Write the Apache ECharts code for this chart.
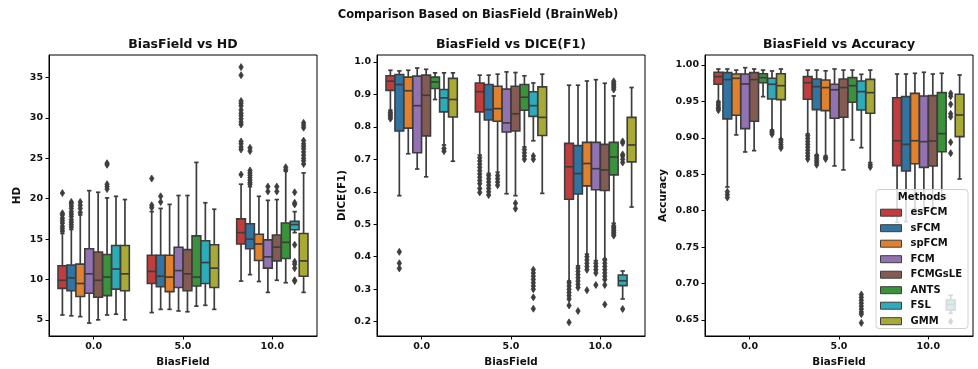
<!DOCTYPE html>
<html>
<head>
<meta charset="utf-8">
<script src="https://cdn.jsdelivr.net/npm/echarts@6/dist/echarts.min.js"></script>
<style>
  html, body { margin: 0; padding: 0; background: #fff; }
  #chart { width: 978px; height: 369px; }
</style>
</head>
<body>
<div id="chart"></div>
<script>
// Bias field levels on the x axis and segmentation methods (hue)
const categories = ['0.0', '5.0', '10.0'];
const methods = ['esFCM', 'sFCM', 'spFCM', 'FCM', 'FCMGsLE', 'ANTS', 'FSL', 'GMM'];

// Box statistics per method: [lower whisker, Q1, median, Q3, upper whisker]
// ---- HD ----
const hdBox0 = [
  [5.6, 8.9, 9.9, 11.7, 15.7],
  [5.5, 8.6, 10.2, 11.8, 16.2],
  [5.4, 7.9, 9.5, 11.9, 18.0],
  [4.6, 8.3, 10.7, 13.8, 21.0],
  [5.0, 7.8, 9.9, 13.4, 20.8],
  [5.6, 8.0, 10.3, 13.1, 20.1],
  [5.7, 8.8, 11.3, 14.2, 20.3],
  [5.0, 8.6, 10.7, 14.2, 19.9]
];
const hdBox5 = [
  [5.9, 9.5, 11.0, 13.0, 18.4],
  [6.3, 9.1, 10.4, 13.0, 18.8],
  [6.3, 8.5, 10.3, 13.0, 19.3],
  [6.1, 9.0, 11.1, 14.0, 20.4],
  [6.0, 8.6, 10.7, 13.7, 20.4],
  [6.7, 9.2, 10.3, 15.4, 24.5],
  [6.8, 9.5, 12.1, 14.8, 19.5],
  [6.3, 9.0, 11.4, 14.3, 18.7]
];
const hdBox10 = [
  [9.8, 14.4, 15.8, 17.5, 21.8],
  [10.6, 13.8, 15.0, 16.9, 21.5],
  [9.75, 12.35, 14.4, 15.6, 20.3],
  [8.4, 11.4, 12.8, 14.9, 19.8],
  [9.9, 12.3, 14.0, 15.5, 19.9],
  [9.6, 12.6, 14.6, 17.0, 23.4],
  [15.8, 16.15, 16.8, 17.2, 18.4],
  [8.4, 10.4, 12.3, 15.7, 23.2]
];
const hdOut0 = [
  [16.0, 16.3, 16.6, 17.0, 17.3, 17.6, 18.0, 18.2, 20.7],
  [16.5, 16.8, 17.1, 17.4, 17.8, 18.1, 18.4, 18.8, 19.1, 19.4, 19.6],
  [18.3, 18.8, 19.2, 19.6],
  [], [],
  [21.2, 21.5, 21.8, 24.2, 24.4],
  [], []
];
const hdOut5 = [
  [18.9, 19.2, 22.5],
  [19.6, 20.3],
  [], [], [], [], [], []
];
const hdOut10 = [
  [23.0, 26.1, 26.4, 26.8, 27.1, 29.2, 29.5, 29.9, 30.3, 30.6, 31.0, 31.5, 31.8, 32.1, 35.3, 36.3],
  [21.8, 22.0, 22.3, 22.6, 22.9, 23.2, 23.5, 25.9, 26.3],
  [],
  [20.9, 21.5],
  [20.9, 21.5],
  [23.6, 23.9],
  [20.8, 19.5, 19.3, 14.3, 12.2, 11.9, 11.4, 9.9, 9.8],
  [24.3, 24.7, 25.0, 25.4, 25.8, 26.2, 26.5, 26.8, 27.2, 28.8, 29.1, 29.4]
];

// ---- DICE(F1) ----
const diceBox0 = [
  [0.851, 0.912, 0.9405, 0.957, 0.974],
  [0.588, 0.787, 0.930, 0.961, 0.972],
  [0.717, 0.796, 0.911, 0.953, 0.974],
  [0.670, 0.720, 0.865, 0.956, 0.981],
  [0.646, 0.772, 0.897, 0.959, 0.977],
  [0.884, 0.918, 0.938, 0.953, 0.966],
  [0.744, 0.846, 0.889, 0.915, 0.966],
  [0.694, 0.830, 0.884, 0.949, 0.966]
];
const diceBox5 = [
  [0.713, 0.846, 0.908, 0.935, 0.959],
  [0.656, 0.821, 0.853, 0.930, 0.959],
  [0.660, 0.817, 0.856, 0.925, 0.962],
  [0.594, 0.784, 0.812, 0.916, 0.969],
  [0.588, 0.787, 0.840, 0.925, 0.967],
  [0.738, 0.851, 0.891, 0.930, 0.957],
  [0.757, 0.832, 0.865, 0.908, 0.935],
  [0.595, 0.773, 0.829, 0.923, 0.962]
];
const diceBox10 = [
  [0.325, 0.577, 0.677, 0.749, 0.928],
  [0.372, 0.593, 0.656, 0.742, 0.928],
  [0.408, 0.618, 0.687, 0.752, 0.941],
  [0.388, 0.606, 0.671, 0.752, 0.945],
  [0.393, 0.604, 0.667, 0.746, 0.934],
  [0.503, 0.652, 0.707, 0.752, 0.895],
  [0.270, 0.311, 0.326, 0.344, 0.356],
  [0.553, 0.692, 0.744, 0.829, 0.921]
];
const diceOut0 = [
  [0.845, 0.840, 0.835, 0.830, 0.825],
  [0.415, 0.380, 0.364],
  [], [], [], [],
  [0.733, 0.725],
  []
];
const diceOut5 = [
  [0.705, 0.695, 0.685, 0.675, 0.665, 0.655, 0.645, 0.635, 0.625, 0.610, 0.598],
  [0.650, 0.640, 0.630, 0.620, 0.610, 0.600, 0.590],
  [0.650, 0.640, 0.630, 0.620],
  [],
  [0.565, 0.548],
  [0.730, 0.720, 0.710, 0.700],
  [0.710, 0.700, 0.360, 0.350, 0.340, 0.330, 0.320, 0.310, 0.300, 0.275, 0.240],
  []
];
const diceOut10 = [
  [0.320, 0.310, 0.300, 0.290, 0.280, 0.270, 0.250, 0.198],
  [0.365, 0.355, 0.345, 0.335, 0.325, 0.315, 0.305, 0.233],
  [0.400, 0.390, 0.380, 0.370, 0.360, 0.297],
  [0.380, 0.370, 0.360, 0.350, 0.313],
  [0.390, 0.380, 0.370, 0.360, 0.350, 0.340, 0.330, 0.313, 0.253],
  [0.940, 0.935, 0.930, 0.925, 0.920, 0.915, 0.495, 0.490, 0.485, 0.480, 0.475, 0.470, 0.465],
  [0.755, 0.750, 0.715, 0.710, 0.700, 0.690, 0.239],
  []
];

// ---- Accuracy ----
const accBox0 = [
  [0.950, 0.9735, 0.984, 0.990, 0.9945],
  [0.8325, 0.926, 0.980, 0.9895, 0.9945],
  [0.904, 0.931, 0.9817, 0.9876, 0.993],
  [0.8806, 0.9126, 0.974, 0.9876, 0.9963],
  [0.8824, 0.9227, 0.980, 0.9895, 0.9945],
  [0.9565, 0.9757, 0.9826, 0.988, 0.993],
  [0.9108, 0.9533, 0.9735, 0.9817, 0.9918],
  [0.8984, 0.9524, 0.9716, 0.988, 0.9945]
];
const accBox5 = [
  [0.9053, 0.9529, 0.9757, 0.984, 0.993],
  [0.8765, 0.9387, 0.9703, 0.9808, 0.993],
  [0.875, 0.9373, 0.969, 0.9794, 0.992],
  [0.8614, 0.9268, 0.966, 0.9735, 0.9945],
  [0.856, 0.9282, 0.969, 0.9808, 0.993],
  [0.897, 0.9488, 0.9716, 0.9826, 0.993],
  [0.8865, 0.9382, 0.9634, 0.978, 0.9872],
  [0.866, 0.9337, 0.962, 0.9803, 0.993]
];
const accBox10 = [
  [0.784, 0.8618, 0.896, 0.955, 0.9876],
  [0.785, 0.8545, 0.891, 0.9565, 0.9876],
  [0.803, 0.8645, 0.896, 0.961, 0.9886],
  [0.800, 0.8595, 0.8947, 0.9575, 0.990],
  [0.803, 0.8614, 0.8957, 0.958, 0.9876],
  [0.815, 0.881, 0.9057, 0.962, 0.9886],
  [0.659, 0.6637, 0.6715, 0.6775, 0.684],
  [0.8435, 0.9016, 0.9314, 0.9598, 0.9863]
];
const accOut0 = [
  [0.948, 0.945, 0.942, 0.940, 0.938],
  [0.826, 0.822, 0.818],
  [], [], [], [],
  [0.909, 0.907, 0.905],
  [0.897, 0.894, 0.891, 0.888, 0.886]
];
const accOut5 = [
  [0.903, 0.899, 0.895, 0.891, 0.887, 0.883, 0.879, 0.875, 0.871],
  [0.875, 0.872, 0.869, 0.866, 0.863],
  [0.873, 0.871],
  [], [], [],
  [0.685, 0.681, 0.677, 0.673, 0.669, 0.665, 0.661, 0.658, 0.646],
  [0.863, 0.860]
];
const accOut10 = [
  [], [], [], [], [], [],
  [0.961, 0.957, 0.946, 0.933, 0.929, 0.894, 0.879, 0.648],
  []
];

// Axis tick values
const hdTicks = [5, 10, 15, 20, 25, 30, 35];
const diceTicks = [0.2, 0.3, 0.4, 0.5, 0.6, 0.7, 0.8, 0.9, 1.0];
const accTicks = [0.65, 0.70, 0.75, 0.80, 0.85, 0.90, 0.95, 1.00];

// ---------------- styling ----------------
const palette = ['#c03d3e', '#3274a1', '#e1812c', '#9372b2', '#845b53', '#3a923a', '#2eabb8', '#a9aa35'];
const LINE = '#3d3d3d';
const FONT = 'DejaVu Sans';
const INK = '#111';

const panels = [
  { title: 'BiasField vs HD', yName: 'HD', boxes: [hdBox0, hdBox5, hdBox10], outs: [hdOut0, hdOut5, hdOut10],
    ticks: hdTicks, digits: 0, min: 3.0, max: 37.8, left: 49, nameGap: 27 },
  { title: 'BiasField vs DICE(F1)', yName: 'DICE(F1)', boxes: [diceBox0, diceBox5, diceBox10], outs: [diceOut0, diceOut5, diceOut10],
    ticks: diceTicks, digits: 1, min: 0.156, max: 1.021, left: 377, nameGap: 30 },
  { title: 'BiasField vs Accuracy', yName: 'Accuracy', boxes: [accBox0, accBox5, accBox10], outs: [accOut0, accOut5, accOut10],
    ticks: accTicks, digits: 2, min: 0.628, max: 1.0137, left: 705, nameGap: 37 }
];
const GRID_TOP = 55, GRID_W = 268, GRID_H = 281;

// horizontal offset (px) of a method's box inside its category band
function hueOffset(hue, band) {
  const slot = band * 0.8 / methods.length;
  return { cx: (hue - (methods.length - 1) / 2) * slot, w: slot * 0.98 };
}

function boxRenderer(hue) {
  return function (params, api) {
    const cat = api.value(0);
    const band = api.size([1, 0])[0];
    const o = hueOffset(hue, band);
    const cx = api.coord([cat, api.value(3)])[0] + o.cx;
    const w = o.w;
    const y = k => api.coord([cat, api.value(k)])[1];
    const lo = y(1), q1 = y(2), md = y(3), q3 = y(4), hi = y(5);
    const ls = { stroke: LINE, lineWidth: 1.7 };
    return {
      type: 'group',
      children: [
        { type: 'line', shape: { x1: cx, y1: q1, x2: cx, y2: lo }, style: ls },
        { type: 'line', shape: { x1: cx, y1: q3, x2: cx, y2: hi }, style: ls },
        { type: 'line', shape: { x1: cx - w / 4, y1: lo, x2: cx + w / 4, y2: lo }, style: ls },
        { type: 'line', shape: { x1: cx - w / 4, y1: hi, x2: cx + w / 4, y2: hi }, style: ls },
        { type: 'rect', shape: { x: cx - w / 2, y: q3, width: w, height: q1 - q3 },
          style: { fill: palette[hue], stroke: LINE, lineWidth: 1.6 } },
        { type: 'line', shape: { x1: cx - w / 2, y1: md, x2: cx + w / 2, y2: md }, style: ls }
      ]
    };
  };
}

function flierRenderer(params, api) {
  const cat = api.value(0), hue = api.value(1);
  const band = api.size([1, 0])[0];
  const o = hueOffset(hue, band);
  const p = api.coord([cat, api.value(2)]);
  const cx = p[0] + o.cx, cy = p[1];
  const hy = 3.5, hx = 2.2;
  return {
    type: 'polygon',
    shape: { points: [[cx, cy - hy], [cx + hx, cy], [cx, cy + hy], [cx - hx, cy]] },
    style: { fill: LINE, stroke: LINE, lineWidth: 0.8 }
  };
}

const grids = [], xAxes = [], yAxes = [], series = [], graphics = [];

panels.forEach((pn, gi) => {
  grids.push({ left: pn.left, top: GRID_TOP, width: GRID_W, height: GRID_H,
    show: true, borderColor: '#000', borderWidth: 1, backgroundColor: 'transparent',
    containLabel: false, outerBoundsMode: 'none' });
  xAxes.push({
    type: 'category', gridIndex: gi, data: categories, boundaryGap: true,
    name: 'BiasField', nameLocation: 'middle', nameGap: 20,
    nameTextStyle: { fontFamily: FONT, fontWeight: 'bold', fontSize: 10.4, color: INK },
    axisLine: { show: true, lineStyle: { color: '#000', width: 1 } },
    axisTick: { show: true, alignWithLabel: true, length: 3.5, lineStyle: { color: '#000', width: 1 } },
    axisLabel: { margin: 6, fontFamily: FONT, fontWeight: 'bold', fontSize: 9.5, color: INK },
    splitLine: { show: false }
  });
  yAxes.push({
    type: 'value', gridIndex: gi, min: pn.min, max: pn.max,
    name: pn.yName, nameLocation: 'middle', nameGap: pn.nameGap, nameRotate: 90,
    nameTextStyle: { fontFamily: FONT, fontWeight: 'bold', fontSize: 10.4, color: INK },
    axisLine: { show: true, lineStyle: { color: '#000', width: 1 } },
    axisTick: { show: true, length: 3.5, customValues: pn.ticks, lineStyle: { color: '#000', width: 1 } },
    axisLabel: { margin: 6, customValues: pn.ticks, fontFamily: FONT, fontWeight: 'bold', fontSize: 9.5, color: INK,
      formatter: v => Number(v).toFixed(pn.digits) },
    splitLine: { show: false }
  });

  methods.forEach((m, hue) => {
    const data = pn.boxes.map((catBoxes, ci) => [ci].concat(catBoxes[hue]));
    series.push({
      type: 'custom', name: m, xAxisIndex: gi, yAxisIndex: gi,
      renderItem: boxRenderer(hue),
      encode: { x: 0, y: [1, 2, 3, 4, 5] },
      itemStyle: { color: palette[hue], borderColor: LINE, borderWidth: 1 },
      data: data, z: 2, silent: true, animation: false
    });
  });

  const fl = [];
  pn.outs.forEach((catOuts, ci) => {
    catOuts.forEach((vals, hue) => vals.forEach(v => fl.push([ci, hue, v])));
  });
  series.push({
    type: 'custom', name: 'fliers-' + gi, xAxisIndex: gi, yAxisIndex: gi,
    renderItem: flierRenderer, encode: { x: 0, y: 2 },
    data: fl, z: 3, silent: true, animation: false
  });

  graphics.push({
    type: 'text', x: pn.left + GRID_W / 2, y: 45, z: 10,
    style: { text: pn.title, align: 'center', verticalAlign: 'middle',
      fontFamily: FONT, fontWeight: 'bold', fontSize: 12.5, fill: INK }
  });
});

// main title
graphics.push({
  type: 'text', x: 478, y: 15, z: 10,
  style: { text: 'Comparison Based on BiasField (BrainWeb)', align: 'center', verticalAlign: 'middle',
    fontFamily: FONT, fontWeight: 'bold', fontSize: 11.5, fill: INK }
});

// legend frame and heading
graphics.push({
  type: 'rect', z: 50,
  shape: { x: 876, y: 189.5, width: 92, height: 139, r: 3 },
  style: { fill: 'rgba(255,255,255,0.8)', stroke: '#d0d0d0', lineWidth: 1 }
});
graphics.push({
  type: 'text', x: 922, y: 197.5, z: 51,
  style: { text: 'Methods', align: 'center', verticalAlign: 'middle',
    fontFamily: FONT, fontWeight: 'bold', fontSize: 10, fill: INK }
});

const chart = echarts.init(document.getElementById('chart'), null, { renderer: 'canvas' });
chart.setOption({
  animation: false,
  backgroundColor: '#fff',
  grid: grids,
  xAxis: xAxes,
  yAxis: yAxes,
  series: series,
  graphic: { elements: graphics },
  legend: {
    z: 60,
    orient: 'vertical', left: 880, top: 207.7, padding: 0,
    itemWidth: 21, itemHeight: 7, itemGap: 5.5, icon: 'rect',
    selectedMode: false,
    textStyle: { fontFamily: FONT, fontWeight: 'bold', fontSize: 10, color: INK, padding: [0, 0, 0, 4] },
    data: methods.map((m, i) => ({ name: m, itemStyle: { color: palette[i], borderColor: LINE, borderWidth: 1 } }))
  }
});
</script>
</body>
</html>
